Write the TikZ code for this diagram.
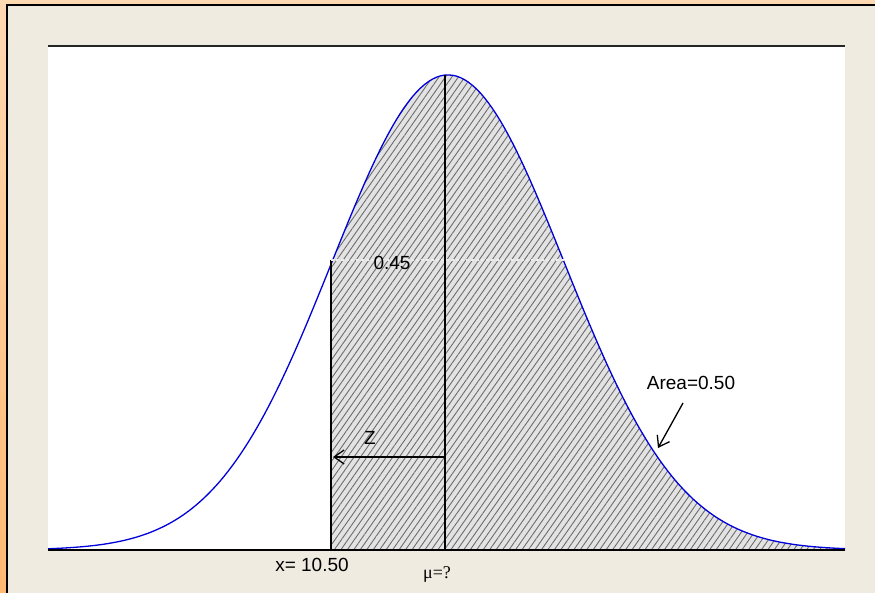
\documentclass[tikz,border=0pt]{standalone}
\usepackage{fontspec}
\setmainfont{Liberation Sans}
\newfontfamily\serifmu{Liberation Serif}
\usetikzlibrary{arrows.meta,patterns.meta}

\definecolor{panelbeige}{RGB}{240,235,224}

\tikzset{
  bellcurve/.style={draw=blue!85!black, line width=1.3pt},
  refline/.style={black, line width=1.2pt},
  callout/.style={black, line width=1.3pt, -{Straight Barb[length=10pt,width=14pt,line width=1.3pt]}},
  hatched/.style={fill=gray!22, postaction={pattern={Lines[angle=55,distance=5.3pt,line width=0.9pt]}, pattern color=gray!85!black}}
}

\begin{document}
\begin{tikzpicture}[x=1pt, y=-1pt, font=\fontsize{19}{22}\selectfont]
\useasboundingbox (0,0) rectangle (875,593);

% Frame
\shade[top color=orange!30, bottom color=orange!55] (0,0) rectangle (875,593);
\fill[panelbeige] (7,5) rectangle (875,593);
\draw[black, line width=2pt] (7,593) -- (7,5) -- (875,5);

% Plot area
\fill[white] (48,46) rectangle (845,550);
\draw[black!85, line width=2pt] (48,46) -- (845,46);

% Shaded area
\fill[hatched] (331,550) -- plot[domain=331:845, samples=120] (\x, {550-475*exp(-((\x-448)/116)^2/2)}) -- (845,550) -- cycle;

% Curve
\draw[bellcurve] plot[domain=48:845, samples=200] (\x, {550-475*exp(-((\x-448)/116)^2/2)});

% Axis
\draw[black, line width=2pt] (48,550) -- (845,550);

% Lines
\coordinate (xtop) at (331,260);
\coordinate (xbase) at (331,550);
\coordinate (mutop) at (445,75);
\coordinate (mubase) at (445,550);
\coordinate (rtop) at (565,260);
\draw[refline] (xtop) -- (xbase);
\draw[refline] (mutop) -- (mubase);
\draw[white!85!gray, line width=1.2pt, dash pattern=on 3pt off 2pt] (xtop) -- (rtop);

% Labels
\node (prob) at (392,263) {0.45};
\node (zlabel) at (370,438) {Z};
\node (area) at (691,383) {Area=0.50};
\node (xval) at (312,565) {x= 10.50};
\node (muval) at (437,574) {\serifmu\fontsize{18}{20}\selectfont μ=?};

% Arrows
\coordinate (zstart) at (445,457);
\coordinate (zend) at (333,457);
\coordinate (areatip) at (658,448);
\draw[callout] (zstart) -- (zend);
\draw[callout] (683,403) -- (areatip);

\end{tikzpicture}
\end{document}
